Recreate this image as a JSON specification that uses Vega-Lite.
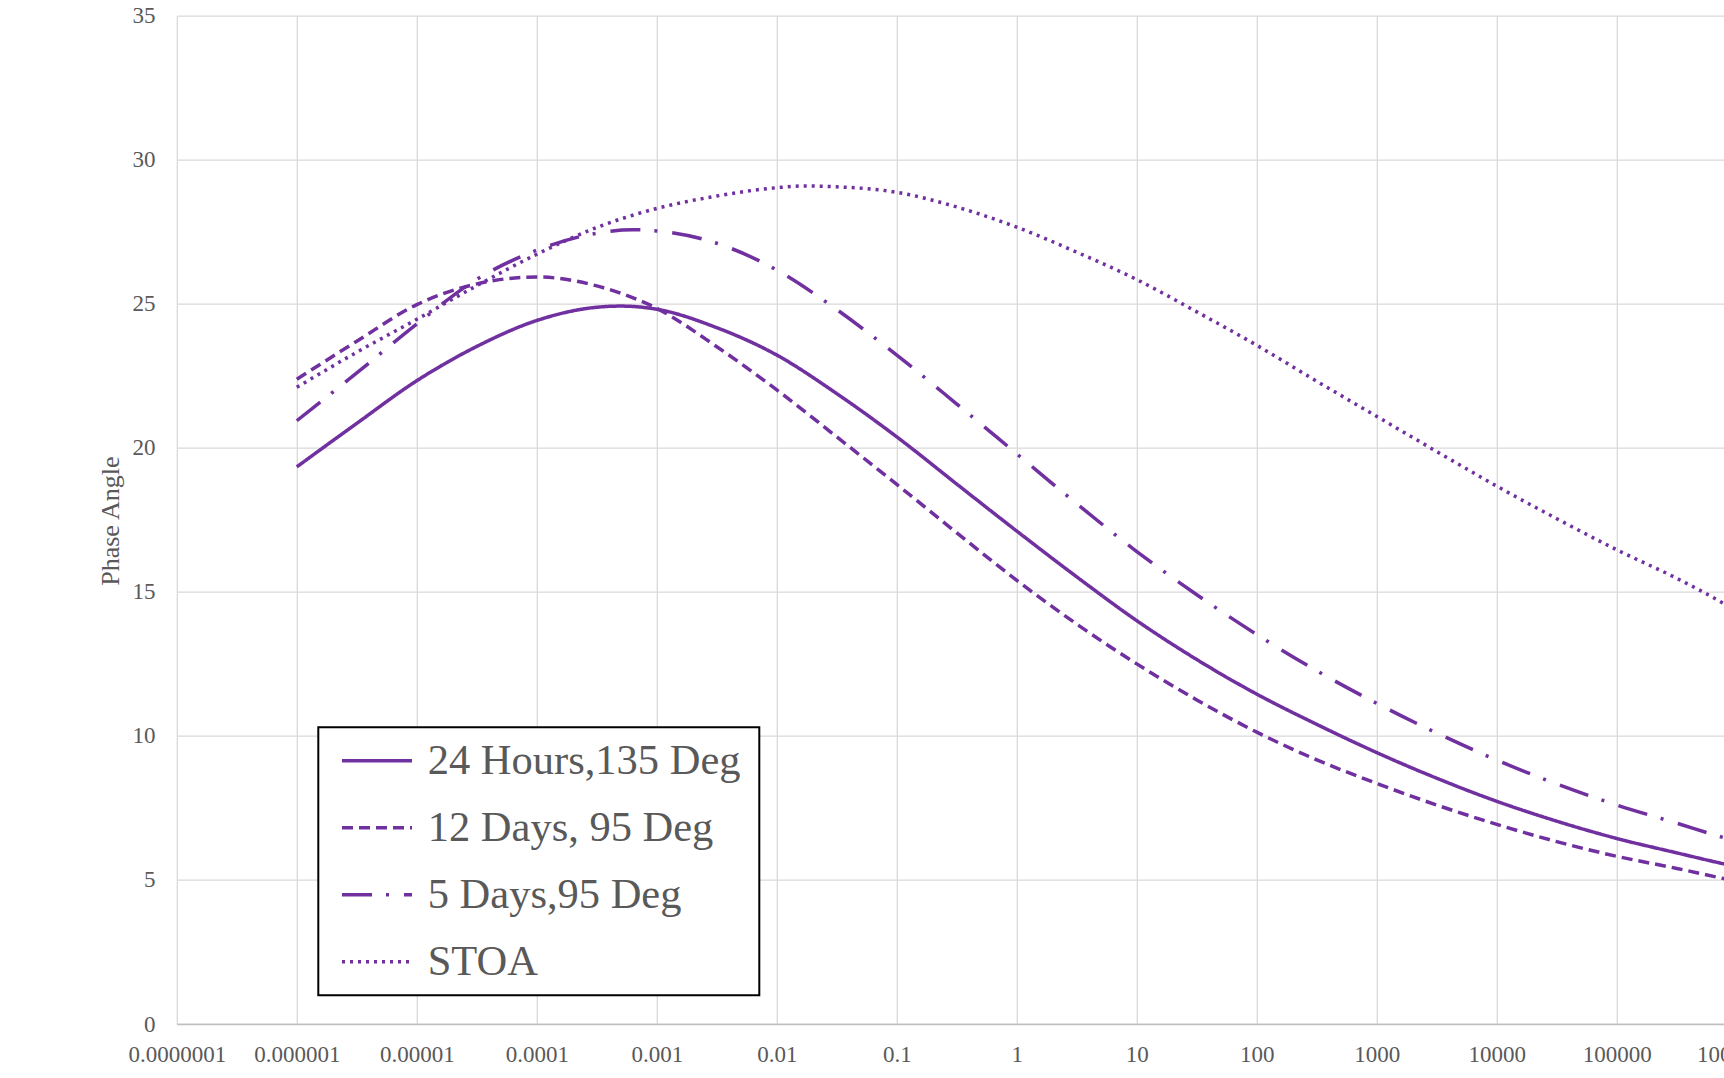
{
  "$schema": "https://vega.github.io/schema/vega-lite/v6.json",
  "width": 1560,
  "height": 1008.3,
  "autosize": {"type": "none"},
  "padding": {"left": 176.8, "top": 15.7, "right": -12.8, "bottom": 54},
  "background": "white",
  "config": {"font": "Liberation Serif", "view": {"stroke": null}},
  "data": {
    "values": [
      {"series": "24 Hours,135 Deg", "t": 0.000001, "v": 19.34},
      {"series": "24 Hours,135 Deg", "t": 0.0000031623, "v": 20.85},
      {"series": "24 Hours,135 Deg", "t": 0.00001, "v": 22.33},
      {"series": "24 Hours,135 Deg", "t": 0.000031623, "v": 23.52},
      {"series": "24 Hours,135 Deg", "t": 0.0001, "v": 24.42},
      {"series": "24 Hours,135 Deg", "t": 0.00031623, "v": 24.88},
      {"series": "24 Hours,135 Deg", "t": 0.0005, "v": 24.92},
      {"series": "24 Hours,135 Deg", "t": 0.001, "v": 24.81},
      {"series": "24 Hours,135 Deg", "t": 0.0031623, "v": 24.17},
      {"series": "24 Hours,135 Deg", "t": 0.01, "v": 23.22},
      {"series": "24 Hours,135 Deg", "t": 0.031623, "v": 21.88},
      {"series": "24 Hours,135 Deg", "t": 0.1, "v": 20.38},
      {"series": "24 Hours,135 Deg", "t": 0.31623, "v": 18.74},
      {"series": "24 Hours,135 Deg", "t": 1, "v": 17.11},
      {"series": "24 Hours,135 Deg", "t": 3.1623, "v": 15.52},
      {"series": "24 Hours,135 Deg", "t": 10, "v": 14.0},
      {"series": "24 Hours,135 Deg", "t": 31.623, "v": 12.65},
      {"series": "24 Hours,135 Deg", "t": 100, "v": 11.45},
      {"series": "24 Hours,135 Deg", "t": 316.23, "v": 10.4},
      {"series": "24 Hours,135 Deg", "t": 1000, "v": 9.42},
      {"series": "24 Hours,135 Deg", "t": 3162.3, "v": 8.53},
      {"series": "24 Hours,135 Deg", "t": 10000, "v": 7.73},
      {"series": "24 Hours,135 Deg", "t": 31623, "v": 7.04},
      {"series": "24 Hours,135 Deg", "t": 100000, "v": 6.44},
      {"series": "24 Hours,135 Deg", "t": 316228, "v": 5.94},
      {"series": "24 Hours,135 Deg", "t": 776247, "v": 5.56},
      {"series": "24 Hours,135 Deg", "t": 1000000, "v": 5.46},

      {"series": "12 Days, 95 Deg", "t": 0.000001, "v": 22.38},
      {"series": "12 Days, 95 Deg", "t": 0.0000031623, "v": 23.7},
      {"series": "12 Days, 95 Deg", "t": 0.00001, "v": 24.97},
      {"series": "12 Days, 95 Deg", "t": 0.000031623, "v": 25.69},
      {"series": "12 Days, 95 Deg", "t": 0.0001, "v": 25.93},
      {"series": "12 Days, 95 Deg", "t": 0.00031623, "v": 25.62},
      {"series": "12 Days, 95 Deg", "t": 0.001, "v": 24.84},
      {"series": "12 Days, 95 Deg", "t": 0.0031623, "v": 23.51},
      {"series": "12 Days, 95 Deg", "t": 0.01, "v": 22.01},
      {"series": "12 Days, 95 Deg", "t": 0.031623, "v": 20.38},
      {"series": "12 Days, 95 Deg", "t": 0.1, "v": 18.73},
      {"series": "12 Days, 95 Deg", "t": 0.31623, "v": 17.05},
      {"series": "12 Days, 95 Deg", "t": 1, "v": 15.4},
      {"series": "12 Days, 95 Deg", "t": 3.1623, "v": 13.88},
      {"series": "12 Days, 95 Deg", "t": 10, "v": 12.5},
      {"series": "12 Days, 95 Deg", "t": 31.623, "v": 11.25},
      {"series": "12 Days, 95 Deg", "t": 100, "v": 10.13},
      {"series": "12 Days, 95 Deg", "t": 316.23, "v": 9.17},
      {"series": "12 Days, 95 Deg", "t": 1000, "v": 8.35},
      {"series": "12 Days, 95 Deg", "t": 3162.3, "v": 7.6},
      {"series": "12 Days, 95 Deg", "t": 10000, "v": 6.93},
      {"series": "12 Days, 95 Deg", "t": 31623, "v": 6.33},
      {"series": "12 Days, 95 Deg", "t": 100000, "v": 5.82},
      {"series": "12 Days, 95 Deg", "t": 316228, "v": 5.4},
      {"series": "12 Days, 95 Deg", "t": 776247, "v": 5.05},
      {"series": "12 Days, 95 Deg", "t": 1000000, "v": 4.96},

      {"series": "5 Days,95 Deg", "t": 0.000001, "v": 20.94},
      {"series": "5 Days,95 Deg", "t": 0.0000031623, "v": 22.6},
      {"series": "5 Days,95 Deg", "t": 0.00001, "v": 24.3},
      {"series": "5 Days,95 Deg", "t": 0.000031623, "v": 25.85},
      {"series": "5 Days,95 Deg", "t": 0.0001, "v": 26.86},
      {"series": "5 Days,95 Deg", "t": 0.00031623, "v": 27.45},
      {"series": "5 Days,95 Deg", "t": 0.00063, "v": 27.57},
      {"series": "5 Days,95 Deg", "t": 0.001, "v": 27.53},
      {"series": "5 Days,95 Deg", "t": 0.0031623, "v": 27.1},
      {"series": "5 Days,95 Deg", "t": 0.01, "v": 26.17},
      {"series": "5 Days,95 Deg", "t": 0.031623, "v": 24.8},
      {"series": "5 Days,95 Deg", "t": 0.1, "v": 23.22},
      {"series": "5 Days,95 Deg", "t": 0.31623, "v": 21.52},
      {"series": "5 Days,95 Deg", "t": 1, "v": 19.79},
      {"series": "5 Days,95 Deg", "t": 3.1623, "v": 18.06},
      {"series": "5 Days,95 Deg", "t": 10, "v": 16.4},
      {"series": "5 Days,95 Deg", "t": 31.623, "v": 14.9},
      {"series": "5 Days,95 Deg", "t": 100, "v": 13.52},
      {"series": "5 Days,95 Deg", "t": 316.23, "v": 12.26},
      {"series": "5 Days,95 Deg", "t": 1000, "v": 11.13},
      {"series": "5 Days,95 Deg", "t": 3162.3, "v": 10.1},
      {"series": "5 Days,95 Deg", "t": 10000, "v": 9.16},
      {"series": "5 Days,95 Deg", "t": 31623, "v": 8.33},
      {"series": "5 Days,95 Deg", "t": 100000, "v": 7.6},
      {"series": "5 Days,95 Deg", "t": 316228, "v": 6.97},
      {"series": "5 Days,95 Deg", "t": 776247, "v": 6.47},
      {"series": "5 Days,95 Deg", "t": 1000000, "v": 6.34},

      {"series": "STOA", "t": 0.000001, "v": 22.1},
      {"series": "STOA", "t": 0.0000031623, "v": 23.32},
      {"series": "STOA", "t": 0.00001, "v": 24.46},
      {"series": "STOA", "t": 0.000031623, "v": 25.63},
      {"series": "STOA", "t": 0.0001, "v": 26.72},
      {"series": "STOA", "t": 0.00031623, "v": 27.65},
      {"series": "STOA", "t": 0.001, "v": 28.31},
      {"series": "STOA", "t": 0.0031623, "v": 28.74},
      {"series": "STOA", "t": 0.01, "v": 29.03},
      {"series": "STOA", "t": 0.017, "v": 29.09},
      {"series": "STOA", "t": 0.031623, "v": 29.06},
      {"series": "STOA", "t": 0.1, "v": 28.87},
      {"series": "STOA", "t": 0.31623, "v": 28.36},
      {"series": "STOA", "t": 1, "v": 27.66},
      {"series": "STOA", "t": 3.1623, "v": 26.79},
      {"series": "STOA", "t": 10, "v": 25.84},
      {"series": "STOA", "t": 31.623, "v": 24.72},
      {"series": "STOA", "t": 100, "v": 23.56},
      {"series": "STOA", "t": 316.23, "v": 22.31},
      {"series": "STOA", "t": 1000, "v": 21.09},
      {"series": "STOA", "t": 3162.3, "v": 19.87},
      {"series": "STOA", "t": 10000, "v": 18.67},
      {"series": "STOA", "t": 31623, "v": 17.54},
      {"series": "STOA", "t": 100000, "v": 16.46},
      {"series": "STOA", "t": 316228, "v": 15.47},
      {"series": "STOA", "t": 776247, "v": 14.6},
      {"series": "STOA", "t": 1000000, "v": 14.33}
    ]
  },
  "mark": {"type": "line", "interpolate": "monotone", "color": "#7030A0", "strokeWidth": 3.5},
  "encoding": {
    "x": {
      "field": "t",
      "type": "quantitative",
      "scale": {"type": "log", "domain": [0.0000001, 1000000]},
      "axis": {
        "title": null,
        "values": [0.0000001, 0.000001, 0.00001, 0.0001, 0.001, 0.01, 0.1, 1, 10, 100, 1000, 10000, 100000, 1000000],
        "format": ".7~f",
        "grid": true,
        "gridColor": "#D9D9D9",
        "gridWidth": 1.3,
        "ticks": false,
        "labelPadding": 19,
        "labelFont": "Liberation Serif",
        "labelFontSize": 23,
        "labelColor": "#595959",
        "labelFlush": false,
        "labelOverlap": false,
        "domainColor": "#BFBFBF",
        "domainWidth": 1.6
      }
    },
    "y": {
      "field": "v",
      "type": "quantitative",
      "scale": {"domain": [0, 35], "nice": false},
      "axis": {
        "title": "Phase Angle",
        "values": [0, 5, 10, 15, 20, 25, 30, 35],
        "grid": true,
        "gridColor": "#D9D9D9",
        "gridWidth": 1.3,
        "ticks": false,
        "domain": false,
        "labelPadding": 21.8,
        "labelFont": "Liberation Serif",
        "labelFontSize": 23,
        "labelColor": "#595959",
        "titleFont": "Liberation Serif",
        "titleFontSize": 26,
        "titleFontWeight": "normal",
        "titleColor": "#595959",
        "titleX": -53.6,
        "titleY": 505
      }
    },
    "strokeDash": {
      "field": "series",
      "type": "nominal",
      "scale": {
        "domain": ["24 Hours,135 Deg", "12 Days, 95 Deg", "5 Days,95 Deg", "STOA"],
        "range": [[1, 0], [11, 6], [30, 14, 3, 15], [3, 5]]
      },
      "legend": {
        "orient": "none",
        "legendX": 141.5,
        "legendY": 711.6,
        "title": "\u00a0",
        "titleOrient": "right",
        "titleFontSize": 1,
        "titlePadding": 19,
        "symbolType": "stroke",
        "symbolSize": 4900,
        "symbolStrokeWidth": 3.5,
        "symbolStrokeColor": "#7030A0",
        "labelFont": "Liberation Serif",
        "labelFontSize": 42.5,
        "labelColor": "#595959",
        "labelOffset": 13.7,
        "labelLimit": 1000,
        "symbolOffset": 21.7,
        "padding": 0,
        "clipHeight": 66.8,
        "rowPadding": 0,
        "strokeColor": "#000000",
        "fillColor": "white",
        "encode": {"legend": {"update": {"strokeWidth": {"value": 2}}}}
      }
    }
  }
}
